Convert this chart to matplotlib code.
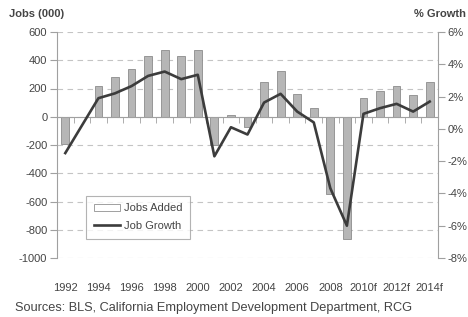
import matplotlib.pyplot as plt
from matplotlib.patches import Patch
from matplotlib.lines import Line2D
from matplotlib.ticker import FuncFormatter

plt.rcParams['font.family'] = ['Liberation Sans', 'DejaVu Sans']
plt.rcParams['axes.unicode_minus'] = False

# Data
years = ['1992', '1993', '1994', '1995', '1996', '1997', '1998', '1999', '2000',
         '2001', '2002', '2003', '2004', '2005', '2006', '2007', '2008', '2009',
         '2010f', '2011f', '2012f', '2013f', '2014f']
jobs_added = [-195, 0, 220, 280, 337, 428, 472, 430, 472,
              -197, 12, -70, 248, 326, 163, 62, -545, -865,
              130, 180, 220, 155, 245]
job_growth = [-1.5, 0.2, 1.9, 2.2, 2.65, 3.28, 3.55, 3.08, 3.35,
              -1.7, 0.1, -0.35, 1.63, 2.17, 1.07, 0.4, -3.68, -6.0,
              0.93, 1.28, 1.55, 1.07, 1.69]
left_ticks = [-1000, -800, -600, -400, -200, 0, 200, 400, 600]
right_ticks = [-8, -6, -4, -2, 0, 2, 4, 6]

txt = '#444444'
axis_gray = '#a0a0a0'

fig = plt.figure(figsize=(4.68, 3.17), dpi=100)
ax = fig.add_axes([57 / 468, 1 - 258 / 317, 381 / 468, 226 / 317])
x = list(range(len(years)))

# Bars for jobs added
ax.bar(x, jobs_added, width=0.47, color='#b6b6b6', edgecolor='#8c8c8c', linewidth=0.6, zorder=2)
ax.set_xlim(-0.5, len(years) - 0.5)
ax.set_ylim(-1000, 600)
ax.set_yticks(left_ticks)
ax.grid(axis='y', color='#c4c4c4', linestyle=(0, (5, 4)), linewidth=0.8)
ax.set_axisbelow(True)

# category axis sits on the zero line, ticks between categories
ax.spines['bottom'].set_position(('data', 0))
ax.spines['bottom'].set_color(axis_gray)
ax.spines['top'].set_visible(False)
ax.spines['left'].set_color(axis_gray)
ax.spines['right'].set_visible(False)
ax.set_xticks(x)
ax.set_xticks([i + 0.5 for i in x[:-1]], minor=True)
ax.tick_params(axis='x', which='major', length=0, labelbottom=False)
ax.tick_params(axis='x', which='minor', length=4, color=axis_gray, direction='out')
ax.tick_params(axis='y', length=5, color=axis_gray, labelsize=8, labelcolor=txt, pad=2)

# year labels at the bottom of the plot area
sec = ax.secondary_xaxis('bottom')
sec.set_xticks(x[::2])
sec.set_xticklabels(years[::2])
sec.spines['bottom'].set_visible(False)
sec.tick_params(length=0, pad=18, labelsize=8, labelcolor=txt)

# Line for job growth on right axis
ax2 = ax.twinx()
ax2.plot(x, job_growth, color='#3c3c3c', linewidth=1.9, zorder=3)
ax2.set_ylim(-8, 6)
ax2.set_yticks(right_ticks)
ax2.yaxis.set_major_formatter(FuncFormatter(lambda v, p: f'{v:.0f}%'))
for s in ['top', 'left', 'bottom']:
    ax2.spines[s].set_visible(False)
ax2.spines['right'].set_color(axis_gray)
ax2.tick_params(axis='y', length=5, color=axis_gray, labelsize=8, labelcolor=txt, pad=2)

handles = [Patch(facecolor='white', edgecolor='#909090', linewidth=0.6),
           Line2D([], [], color='#3c3c3c', linewidth=1.9)]
leg = ax2.legend(handles, ['Jobs Added', 'Job Growth'], loc='lower left',
                 bbox_to_anchor=(0.076, 0.084), borderaxespad=0, fontsize=8, frameon=True,
                 fancybox=False, handlelength=2.4, handletextpad=0.3, borderpad=0.7,
                 labelspacing=0.7)
leg.get_frame().set_edgecolor('#a0a0a0')
leg.get_frame().set_linewidth(0.8)
for t in leg.get_texts():
    t.set_color(txt)

fig.text(9 / 468, 1 - 14 / 317, 'Jobs (000)', fontsize=8, fontweight='bold', color=txt, va='center')
fig.text(466 / 468, 1 - 14 / 317, '% Growth', fontsize=8, fontweight='bold', color=txt, va='center', ha='right')
fig.text(15 / 468, 1 - 308 / 317, 'Sources: BLS, California Employment Development Department, RCG',
         fontsize=9.2, color=txt, va='center')

plt.savefig('out.png', dpi=100)
